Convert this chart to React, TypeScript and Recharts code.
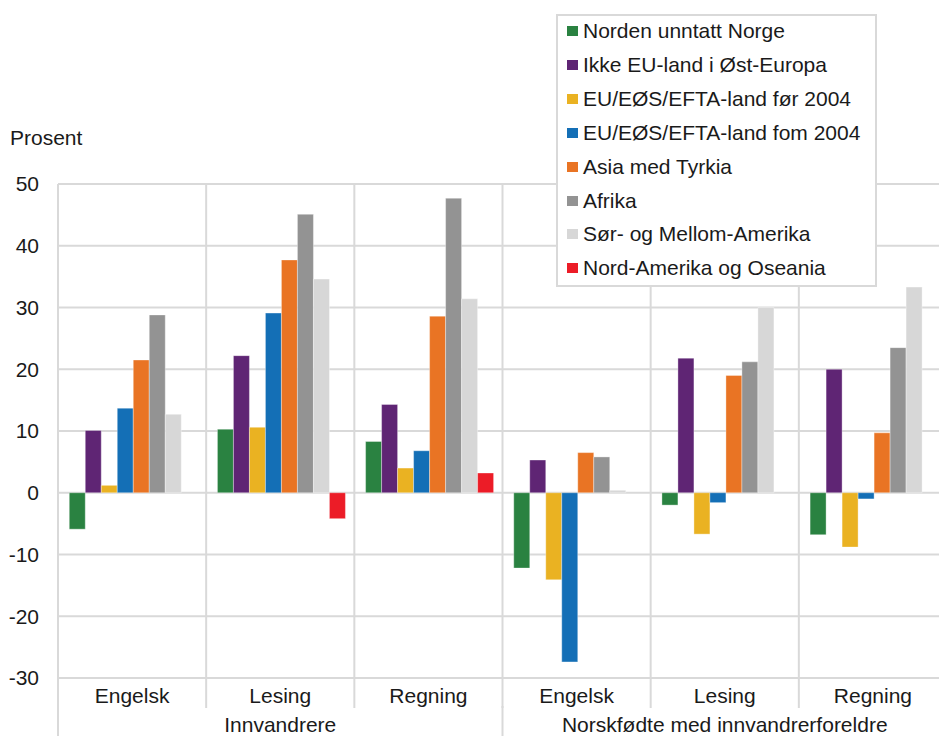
import React from 'react'
import { BarChart, Bar, XAxis, YAxis, CartesianGrid } from 'recharts'

const FONT = '"Liberation Sans", Arial, sans-serif'
const TEXT = '#1a1a1a'
const GRID = '#d9d9d9'

// test categories and their groups
const subjects = ['Engelsk', 'Lesing', 'Regning', 'Engelsk', 'Lesing', 'Regning']
const groups = ['Innvandrere', 'Innvandrere', 'Innvandrere', 'Norskfødte med innvandrerforeldre', 'Norskfødte med innvandrerforeldre', 'Norskfødte med innvandrerforeldre']

// percent
const nordenUnntattNorge = [-5.9, 10.3, 8.3, -12.2, -2.0, -6.8]
const ikkeEuOstEuropa = [10.1, 22.2, 14.3, 5.3, 21.8, 20.0]
const euFor2004 = [1.2, 10.6, 4.0, -14.1, -6.7, -8.8]
const euFom2004 = [13.7, 29.1, 6.8, -27.4, -1.6, -1.0]
const asiaMedTyrkia = [21.5, 37.7, 28.6, 6.5, 19.0, 9.7]
const afrika = [28.8, 45.1, 47.7, 5.8, 21.2, 23.5]
const sorMellomAmerika = [12.7, 34.6, 31.4, 0.4, 30.0, 33.3]
const nordAmerikaOseania = [null, -4.2, 3.2, null, null, null]

const yTicks = [-30, -20, -10, 0, 10, 20, 30, 40, 50]

const series = [
  { key: 'norden', name: 'Norden unntatt Norge', color: '#2a8241', values: nordenUnntattNorge },
  { key: 'ostEuropa', name: 'Ikke EU-land i Øst-Europa', color: '#5f2574', values: ikkeEuOstEuropa },
  { key: 'euFor', name: 'EU/EØS/EFTA-land før 2004', color: '#eab222', values: euFor2004 },
  { key: 'euFom', name: 'EU/EØS/EFTA-land fom 2004', color: '#146fb6', values: euFom2004 },
  { key: 'asia', name: 'Asia med Tyrkia', color: '#e97424', values: asiaMedTyrkia },
  { key: 'afrika', name: 'Afrika', color: '#939393', values: afrika },
  { key: 'sorAm', name: 'Sør- og Mellom-Amerika', color: '#d7d7d7', values: sorMellomAmerika },
  { key: 'nordAm', name: 'Nord-Amerika og Oseania', color: '#ec1c27', values: nordAmerikaOseania },
]

const data = subjects.map((s, i) => {
  const row: Record<string, any> = { id: `${groups[i]}|${s}` }
  series.forEach((ser) => {
    row[ser.key] = ser.values[i]
  })
  return row
})

function SubjectTick(props: any) {
  const { x, y, index, payload } = props
  const half = payload?.offset ?? 74
  return (
    <g>
      <line x1={x - half} x2={x - half} y1={y} y2={y + 30} stroke={GRID} strokeWidth={2} />
      <text x={x} y={y + 17} textAnchor="middle" dominantBaseline="central" fill={TEXT} fontSize={21} fontFamily={FONT}>
        {subjects[index]}
      </text>
    </g>
  )
}

function GroupTick(props: any) {
  const { x, y, index, payload } = props
  const half = payload?.offset ?? 74
  const first = index === 0 || groups[index] !== groups[index - 1]
  const middle = index > 0 && index < groups.length - 1 && groups[index - 1] === groups[index] && groups[index + 1] === groups[index]
  return (
    <g>
      {first && <line x1={x - half} x2={x - half} y1={y - 2} y2={y + 40} stroke={GRID} strokeWidth={2} />}
      {middle && (
        <text x={x} y={y + 16} textAnchor="middle" dominantBaseline="central" fill={TEXT} fontSize={21} fontFamily={FONT}>
          {groups[index]}
        </text>
      )}
    </g>
  )
}

function LegendBox() {
  return (
    <div
      style={{
        position: 'absolute',
        left: 556,
        top: 14,
        width: 317,
        height: 269,
        border: `2px solid ${GRID}`,
        background: '#fff',
        fontFamily: FONT,
        fontSize: 21,
        color: TEXT,
      }}
    >
      {series.map((s, i) => (
        <div
          key={s.key}
          style={{ position: 'absolute', left: 9, top: 0 + i * 33.9, height: 30, display: 'flex', alignItems: 'center', whiteSpace: 'nowrap' }}
        >
          <span style={{ display: 'inline-block', width: 11, height: 10, background: s.color, marginRight: 5 }} />
          <span>{s.name}</span>
        </div>
      ))}
    </div>
  )
}

export default function App() {
  return (
    <div style={{ position: 'fixed', left: 0, top: 0, width: 939, height: 736, overflow: 'hidden', background: '#fff' }}>
      <div style={{ position: 'absolute', left: 10, top: 126, fontFamily: FONT, fontSize: 21, lineHeight: '24px', color: TEXT }}>
        Prosent
      </div>
      <BarChart
        width={950}
        height={736}
        data={data}
        margin={{ top: 184, right: 3, bottom: 0, left: 0 }}
        barCategoryGap="7.6%"
        barGap={0}
      >
        <CartesianGrid
          stroke={GRID}
          strokeWidth={2}
          verticalCoordinatesGenerator={({ offset }: any) =>
            subjects.map((_, i) => offset.left + (i * offset.width) / subjects.length).concat(offset.left + offset.width)
          }
        />
        <XAxis
          dataKey="id"
          xAxisId={0}
          height={30}
          axisLine={false}
          tickLine={false}
          tickSize={0}
          tickMargin={0}
          interval={0}
          tick={(p: any) => <SubjectTick {...p} />}
        />
        <XAxis
          dataKey="id"
          xAxisId="group"
          height={28}
          axisLine={false}
          tickLine={false}
          tickSize={0}
          tickMargin={0}
          interval={0}
          tick={(p: any) => <GroupTick {...p} />}
        />
        <YAxis
          width={58}
          domain={[-30, 50]}
          ticks={yTicks}
          axisLine={false}
          tickLine={false}
          tickSize={0}
          tickMargin={19}
          tick={{ fill: TEXT, fontSize: 21, fontFamily: FONT }}
        />
        {series.map((s) => (
          <Bar
            key={s.key}
            dataKey={s.key}
            name={s.name}
            xAxisId={0}
            fill={s.color}
            stroke="#ffffff"
            strokeOpacity={0.35}
            strokeWidth={1}
            isAnimationActive={false}
          />
        ))}
      </BarChart>
      <LegendBox />
    </div>
  )
}
